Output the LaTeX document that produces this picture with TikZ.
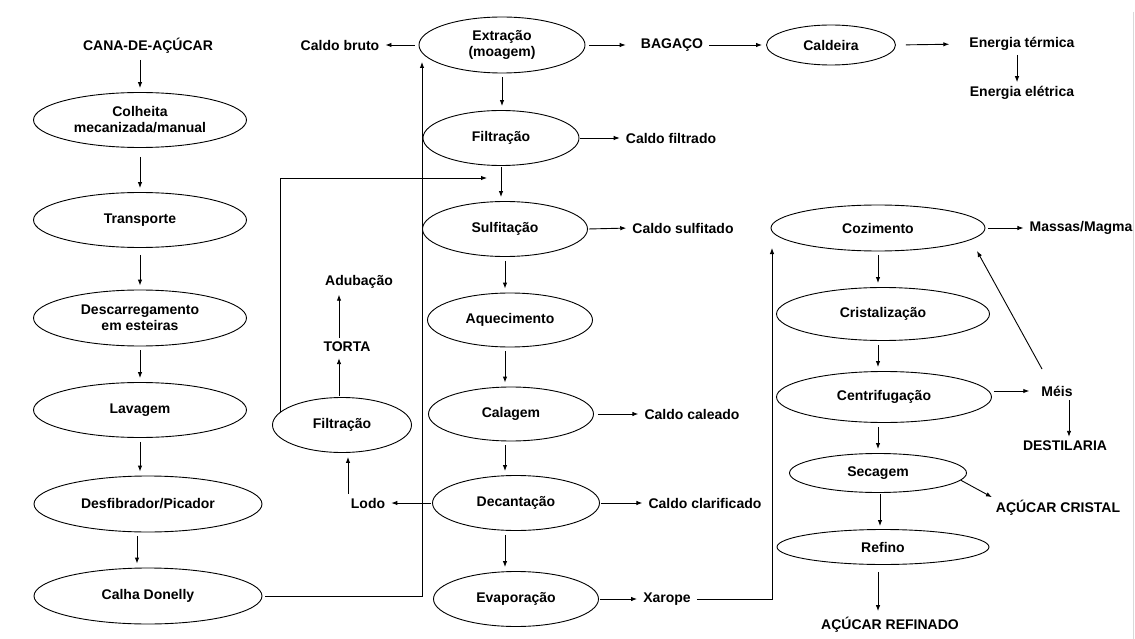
\documentclass[tikz,border=0pt]{standalone}
\usepackage{fontspec}
\setmainfont{Liberation Sans}
\usetikzlibrary{shapes.geometric,arrows.meta,positioning}
\begin{document}
\begin{tikzpicture}[x=1pt,y=-1pt,
  font=\fontsize{14}{16}\selectfont\bfseries,
  proc/.style={ellipse,draw,line width=0.9pt,inner sep=0pt,align=center},
  txt/.style={inner sep=2pt,align=center},
  arr/.style={-{Latex[length=6pt,width=4.5pt]},line width=0.9pt,shorten <=4pt,shorten >=4pt},
  seg/.style={line width=0.9pt}]
\useasboundingbox (0,0) rectangle (1135,639);
\draw[black!15,line width=1pt] (1133,12) -- (1133,639);
% left column
\node[txt] (cana) at (148,46) {CANA-DE-AÇÚCAR};
\node[proc,minimum width=213pt,minimum height=55pt] (colh) at (140,120) {Colheita\\mecanizada/manual};
\node[proc,minimum width=213pt,minimum height=55pt] (transp) at (140,220) {Transporte};
\node[proc,minimum width=213pt,minimum height=56pt] (descar) at (140,318) {Descarregamento\\em esteiras};
\node[proc,minimum width=213pt,minimum height=55pt] (lav) at (140,410) {Lavagem};
\node[proc,minimum width=228pt,minimum height=56pt] (desf) at (148,504) {Desfibrador/Picador};
\node[proc,minimum width=228pt,minimum height=56pt] (calha) at (148,596) {Calha Donelly};
\draw[arr] (cana.south -| colh.north) -- (colh.north);
\draw[arr,shorten <=9pt] (colh.south) -- (transp.north);
\draw[arr,shorten <=7pt] (transp.south) -- (descar.north);
\draw[arr] (descar.south) -- (lav.north);
\draw[arr] (lav.south) -- (desf.north -| lav.south);
\draw[arr] ([xshift=-3pt]desf.south -| lav.south) -- ([xshift=-3pt]calha.north -| lav.south);
% middle column
\node[proc,minimum width=166pt,minimum height=56pt] (extr) at (502,45) {Extração\\(moagem)};
\node[txt] (bruto) at (340,45) {Caldo bruto};
\node[txt] (bagaco) at (672,45) {BAGAÇO};
\node[proc,minimum width=129pt,minimum height=40pt] (cald) at (831,45) {Caldeira};
\node[txt] (eterm) at (1022,44) {Energia térmica};
\node[txt] (eelet) at (1022,93) {Energia elétrica};
\node[proc,minimum width=156pt,minimum height=55pt] (filt) at (501,138) {Filtração};
\node[txt] (cfilt) at (671,138) {Caldo filtrado};
\node[proc,minimum width=165pt,minimum height=55pt] (sulf) at (505,229) {Sulfitação};
\node[txt] (csulf) at (683,228) {Caldo sulfitado};
\node[proc,minimum width=165pt,minimum height=54pt] (aquec) at (510,320) {Aquecimento};
\node[proc,minimum width=165pt,minimum height=54pt] (calag) at (511,414) {Calagem};
\node[txt] (ccal) at (692,414) {Caldo caleado};
\node[proc,minimum width=167pt,minimum height=55pt] (decan) at (516,503) {Decantação};
\node[txt] (cclar) at (705,503) {Caldo clarificado};
\node[proc,minimum width=165pt,minimum height=55pt] (evap) at (516,599) {Evaporação};
\node[txt] (xarope) at (667,599) {Xarope};
\node[txt] (lodo) at (368,503) {Lodo};
\node[proc,minimum width=139pt,minimum height=55pt] (filt2) at (342,425) {Filtração};
\node[txt] (torta) at (347,347) {TORTA};
\node[txt] (adub) at (359,282) {Adubação};
\draw[arr] (extr.west) -- (bruto.east);
\draw[arr,shorten >=13pt] (extr.east) -- (bagaco.west);
\draw[arr] (bagaco.east) -- (cald.west);
\draw[arr,shorten <=10pt,shorten >=18pt] (cald.east) -- (eterm.west);
\draw[arr,shorten <=2pt,shorten >=2pt] ([xshift=-5pt]eterm.south) -- ([xshift=-5pt]eelet.north);
\draw[arr] (extr.south) -- (extr.south |- filt.north);
\draw[arr,shorten <=1pt] (filt.east) -- (cfilt.west);
\draw[arr,shorten <=1pt] (filt.south) -- (filt.south |- sulf.north);
\draw[arr,shorten <=1pt] (sulf.east) -- (csulf.west);
\draw[arr] (sulf.south) -- (sulf.south |- aquec.north);
\draw[arr] (aquec.south -| sulf.south) -- (calag.north -| sulf.south);
\draw[arr] (calag.east) -- (ccal.west);
\draw[arr] (calag.south -| sulf.south) -- (decan.north -| sulf.south);
\draw[arr,shorten <=1pt] (decan.east) -- (cclar.west);
\draw[arr] (decan.south -| sulf.south) -- (evap.north -| sulf.south);
\draw[arr,shorten <=1pt] (evap.east) -- (xarope.west);
\draw[arr,shorten <=1pt] (decan.west) -- (lodo.east);
\draw[arr,shorten <=2pt] ([xshift=-20pt]lodo.north) -- ([xshift=-20pt]lodo.north |- filt2.south);
\draw[arr,shorten <=1pt] ([xshift=-3pt]filt2.north) -- ([xshift=-3pt]filt2.north |- torta.south);
\draw[arr,shorten <=2pt] ([xshift=-8pt]torta.north) -- ([xshift=-8pt]torta.north |- adub.south);
\coordinate (fret) at (487,178);
\draw[arr,shorten <=0pt,shorten >=0pt] (filt2.168) |- (fret);
\coordinate (eret) at (422,62);
\draw[arr,shorten <=3pt,shorten >=0pt] (calha.east) -| (eret);
% right column
\node[proc,minimum width=214pt,minimum height=46pt] (cozi) at (878,228) {Cozimento};
\node[txt] (massas) at (1081,228) {Massas/Magma};
\node[proc,minimum width=213pt,minimum height=53pt] (crist) at (883,314) {Cristalização};
\node[proc,minimum width=215pt,minimum height=51pt] (centr) at (884,397) {Centrifugação};
\node[txt] (meis) at (1057,391) {Méis};
\node[txt] (dest) at (1065,446) {DESTILARIA};
\node[proc,minimum width=177pt,minimum height=39pt] (secag) at (878,473) {Secagem};
\node[txt] (acrist) at (1058,508) {AÇÚCAR CRISTAL};
\node[proc,minimum width=212pt,minimum height=35pt] (refino) at (883,547) {Refino};
\node[txt] (aref) at (890,625) {AÇÚCAR REFINADO};
\coordinate (xup) at (772,248);
\draw[arr,shorten <=4pt,shorten >=0pt] (xarope.east) -| (xup);
\draw[arr,shorten <=3pt] (cozi.east) -- (massas.west);
\draw[arr] (cozi.south -| cozi.center) -- (crist.north -| cozi.center);
\draw[arr] (crist.south -| cozi.center) -- (centr.north -| cozi.center);
\draw[arr,shorten <=2pt,shorten >=10pt] (centr.east |- meis.west) -- (meis.west);
\coordinate (mtail) at ([xshift=-15pt,yshift=22pt]meis.center);
\coordinate (mhead) at (977,251);
\draw[arr,shorten <=0pt,shorten >=0pt] (mtail) -- (mhead);
\draw[arr,shorten <=2pt,shorten >=2pt] ([xshift=12pt]meis.south) -- ([xshift=12pt]meis.south |- dest.north);
\draw[arr] (centr.south -| cozi.center) -- (secag.north -| cozi.center);
\draw[arr,shorten <=0pt,shorten >=2pt] (secag.-5) -- (acrist.north west);
\draw[arr,shorten <=1pt,shorten >=3pt] ([xshift=2pt]secag.south) -- ([xshift=2pt]secag.south |- refino.north);
\draw[arr,shorten <=7pt] (refino.south -| cozi.center) -- (aref.north -| cozi.center);
\end{tikzpicture}
\end{document}
